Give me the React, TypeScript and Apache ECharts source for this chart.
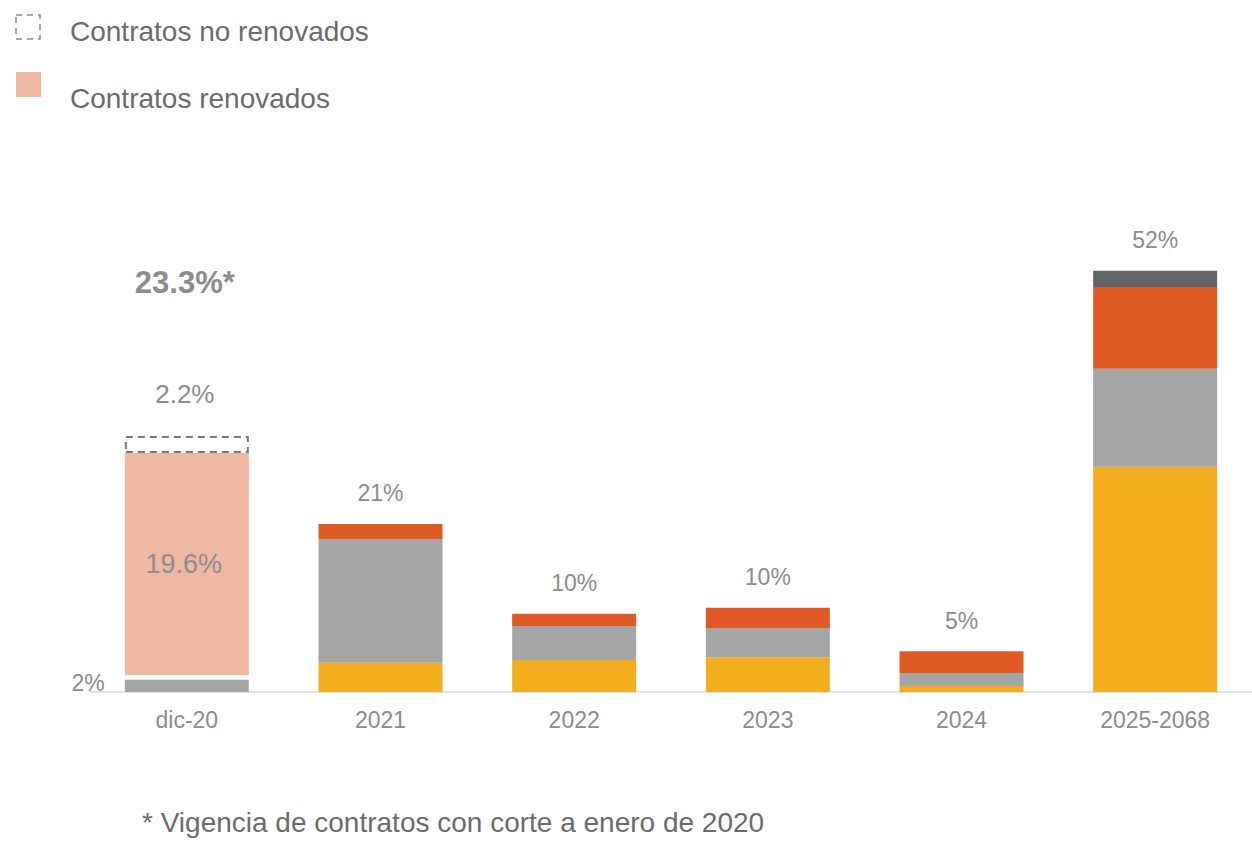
import React, { useEffect, useRef } from "react";
import * as echarts from "echarts";

const categories = ["dic-20", "2021", "2022", "2023", "2024", "2025-2068"];
// segment heights (percentage units) as drawn in the picture
const yellowVals = [null, 3.6, 3.95, 4.3, 0.74, 27.8];
const grayVals = [1.5, 15.3, 4.2, 3.6, 1.6, 12.1];
const orangeVals = [null, 1.85, 1.5, 2.5, 2.7, 10.1];
const darkVals = [null, null, null, null, null, 2.0];
const gapVals = [0.6, null, null, null, null, null];
const renewedVals = [27.4, null, null, null, null, null];
const notRenewedVals = [2.1, null, null, null, null, null];
const totalLabels = ["", "21%", "10%", "10%", "5%", "52%"];
const dic20Labels = { base: "2%", renewed: "19.6%", notRenewed: "2.2%", total: "23.3%*" };
const legendLabels = ["Contratos no renovados", "Contratos renovados"];
const footnote = "* Vigencia de contratos con corte a enero de 2020";

const FONT = "'Liberation Sans', Arial, sans-serif";
const C = {
  yellow: "#F3AE1F",
  gray: "#A5A5A5",
  orange: "#E05A25",
  dark: "#636466",
  pink: "#EDB9A3",
  label: "#8c8c8c",
  text: "#6b6b6b",
};

export default function App() {
  const ref = useRef<HTMLDivElement>(null);
  useEffect(() => {
    if (!ref.current) return;
    const chart = echarts.init(ref.current, null, { renderer: "svg" });

    const totalLabel = (i: number) => ({
      show: true,
      position: "top",
      distance: 19,
      formatter: totalLabels[i],
      color: C.label,
      fontSize: 23,
      fontFamily: FONT,
    });
    const topIndexOf = (i: number) => {
      if (darkVals[i] != null) return "dark";
      if (orangeVals[i] != null) return "orange";
      return "";
    };
    const mk = (vals: (number | null)[], key: string) =>
      vals.map((v, i) => {
        if (v == null) return "-";
        if (totalLabels[i] && topIndexOf(i) === key) return { value: v, label: totalLabel(i) };
        return v;
      });

    const base = { type: "bar", stack: "total", barWidth: 124, silent: true };

    chart.setOption({
      animation: false,
      grid: { left: 90, right: -3, top: 206, bottom: 157 },
      xAxis: {
        type: "category",
        data: categories,
        axisLine: { lineStyle: { color: "#e3e3e3", width: 2 } },
        axisTick: { show: false },
        axisLabel: { color: C.label, fontSize: 23, fontFamily: FONT, margin: 16 },
      },
      yAxis: { type: "value", min: 0, max: 60, show: false, splitLine: { show: false } },
      series: [
        { ...base, name: "yellow", data: mk(yellowVals, "yellow"), itemStyle: { color: C.yellow } },
        {
          ...base,
          name: "gray",
          data: grayVals.map((v, i) =>
            i === 0
              ? {
                  value: v,
                  label: {
                    show: true,
                    position: "left",
                    distance: 20,
                    offset: [0, -3],
                    formatter: dic20Labels.base,
                    color: C.label,
                    fontSize: 23,
                    fontFamily: FONT,
                  },
                }
              : v
          ),
          itemStyle: { color: C.gray },
        },
        { ...base, name: "orange", data: mk(orangeVals, "orange"), itemStyle: { color: C.orange } },
        { ...base, name: "dark", data: mk(darkVals, "dark"), itemStyle: { color: C.dark } },
        { ...base, name: "gap", data: gapVals.map((v) => (v == null ? "-" : v)), itemStyle: { color: "rgba(0,0,0,0)" } },
        {
          ...base,
          name: legendLabels[1],
          data: renewedVals.map((v) => (v == null ? "-" : v)),
          itemStyle: { color: C.pink },
          label: {
            show: true,
            position: "inside",
            offset: [-3, 0],
            formatter: dic20Labels.renewed,
            color: C.label,
            fontSize: 27,
            fontFamily: FONT,
          },
        },
        {
          ...base,
          name: legendLabels[0],
          data: notRenewedVals.map((v) => (v == null ? "-" : v)),
          itemStyle: {
            color: "rgba(0,0,0,0)",
            borderColor: "#7a7a7a",
            borderWidth: 2,
            borderType: [7, 5],
          },
          label: {
            show: true,
            position: "top",
            distance: 29,
            offset: [-2, 0],
            formatter: `{b|${dic20Labels.total}}\n{g|}\n{n|${dic20Labels.notRenewed}}`,
            rich: {
              b: { fontSize: 31, fontWeight: "bold", color: C.label, fontFamily: FONT, lineHeight: 32, align: "center" },
              g: { lineHeight: 83 },
              n: { fontSize: 26, color: C.label, fontFamily: FONT, lineHeight: 26, align: "center" },
            },
          },
        },
      ],
      graphic: [
        {
          type: "rect",
          shape: { x: 16, y: 15, width: 24, height: 24 },
          style: { fill: "none", stroke: "#8a8a8a", lineWidth: 1.5, lineDash: [6, 5] },
        },
        {
          type: "text",
          x: 70,
          y: 31,
          style: { text: legendLabels[0], fill: C.text, fontSize: 28, fontFamily: FONT, verticalAlign: "middle" },
        },
        {
          type: "rect",
          shape: { x: 16, y: 72, width: 25, height: 25 },
          style: { fill: C.pink },
        },
        {
          type: "text",
          x: 70,
          y: 98,
          style: { text: legendLabels[1], fill: C.text, fontSize: 28, fontFamily: FONT, verticalAlign: "middle" },
        },
        {
          type: "text",
          x: 142,
          y: 822,
          style: { text: footnote, fill: C.text, fontSize: 28, fontFamily: FONT, verticalAlign: "middle" },
        },
      ],
    });
    return () => chart.dispose();
  }, []);
  return (
    <div
      ref={ref}
      style={{ position: "fixed", left: 0, top: 0, width: 1252, height: 849, background: "#fff" }}
    />
  );
}
